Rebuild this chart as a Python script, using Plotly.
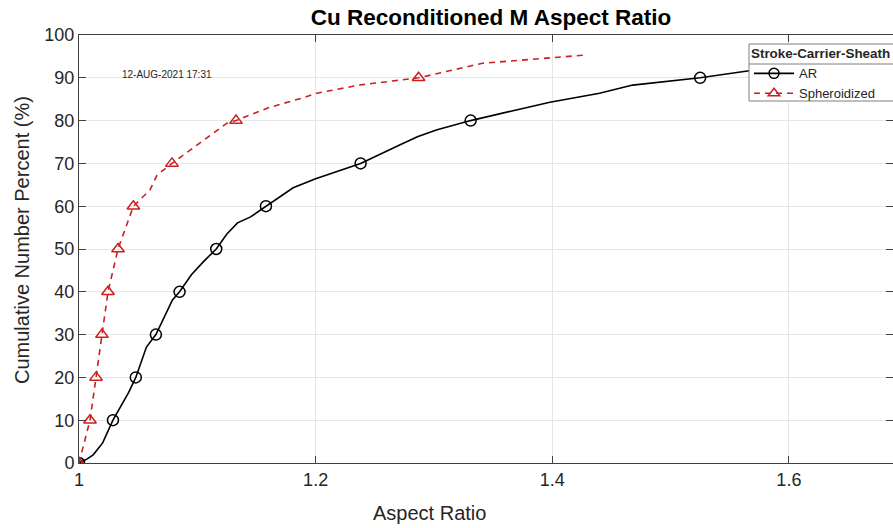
import plotly.graph_objects as go

# ---- data ----
ar_x = [1.000, 1.006, 1.012, 1.020, 1.0287, 1.035, 1.042, 1.048, 1.057, 1.065,
        1.072, 1.079, 1.085, 1.095, 1.105, 1.116, 1.125, 1.134, 1.145, 1.158,
        1.181, 1.200, 1.238, 1.271, 1.286, 1.302, 1.331, 1.365, 1.398, 1.440,
        1.468, 1.525, 1.565, 1.620, 1.690]
ar_y = [0, 0.8, 1.9, 4.7, 10, 13.1, 16.5, 20, 27.1, 30,
        34, 38.1, 40, 44, 47, 50, 53.5, 56.1, 57.5, 60,
        64.3, 66.4, 70, 74.3, 76.2, 77.8, 80, 82.2, 84.3, 86.4,
        88.3, 90, 91.6, 92.4, 93.3]

sph_x = [1.000, 1.0093, 1.0144, 1.0194, 1.0245, 1.033, 1.046, 1.060, 1.066, 1.0786,
         1.100, 1.125, 1.1327, 1.160, 1.189, 1.201, 1.237, 1.287, 1.341, 1.380, 1.4275]
sph_y = [0, 10, 20, 30, 40, 50, 60, 63.8, 67.3, 70,
         74.3, 79.4, 80, 83, 85.3, 86.4, 88.3, 90, 93.4, 94.2, 95.3]

x_ticks = [1.0, 1.2, 1.4, 1.6]
x_tick_labels = ["1", "1.2", "1.4", "1.6"]
y_ticks = [0, 10, 20, 30, 40, 50, 60, 70, 80, 90, 100]

title_text = "Cu Reconditioned M Aspect Ratio"
legend_title = "Stroke-Carrier-Sheath"
stamp = "12-AUG-2021 17:31"

FONT = "Liberation Sans, Arial, Helvetica, sans-serif"
RED = "#cc1f1f"

W, H = 893, 528
L, T, R, B = 79, 35, 893, 463
PW, PH = R - L, B - T


def px_x(p):
    return (p - L) / PW


def px_y(p):
    return (B - p) / PH


def deciles(xs, ys):
    px, py = [], []
    for a, b in zip(xs, ys):
        if abs(b - round(b / 10) * 10) < 1e-9:
            px.append(a)
            py.append(b)
    return px, py


fig = go.Figure()

# AR
fig.add_trace(go.Scatter(x=ar_x, y=ar_y, mode="lines",
                         line=dict(color="black", width=1.6),
                         showlegend=False, hoverinfo="skip"))
mx, my = deciles(ar_x, ar_y)
fig.add_trace(go.Scatter(x=mx, y=my, mode="markers",
                         marker=dict(symbol="circle-open", size=11, color="black",
                                     line=dict(width=1.5, color="black")),
                         showlegend=False))
fig.add_trace(go.Scatter(x=[None], y=[None], mode="lines+markers", name="AR",
                         line=dict(color="black", width=1.6),
                         marker=dict(symbol="circle-open", size=10, color="black",
                                     line=dict(width=1.5, color="black"))))

# Spheroidized
fig.add_trace(go.Scatter(x=sph_x, y=sph_y, mode="lines",
                         line=dict(color=RED, width=1.6, dash="6px,5px"),
                         showlegend=False, hoverinfo="skip"))
sx, sy = deciles(sph_x, sph_y)
fig.add_trace(go.Scatter(x=sx, y=sy, mode="markers",
                         marker=dict(symbol="triangle-up-open", size=11, color=RED,
                                     line=dict(width=1.5, color=RED)),
                         showlegend=False))
fig.add_trace(go.Scatter(x=[None], y=[None], mode="lines+markers", name="Spheroidized",
                         line=dict(color=RED, width=1.6, dash="6px,5px"),
                         marker=dict(symbol="triangle-up-open", size=10, color=RED,
                                     line=dict(width=1.5, color=RED))))

axis_common = dict(
    showline=True, linecolor="#404040", linewidth=1, mirror="ticks",
    ticks="inside", ticklen=7, tickcolor="#404040",
    showgrid=True, gridcolor="#e6e6e6", gridwidth=1,
    zeroline=False,
    tickfont=dict(family=FONT, size=18, color="#262626"),
)

fig.update_layout(
    width=W, height=H,
    margin=dict(l=L, r=W - R, t=T, b=H - B, autoexpand=False),
    paper_bgcolor="white", plot_bgcolor="white",
    font=dict(family=FONT, color="#262626"),
    xaxis=dict(range=[1.0, 1.688], tickvals=x_ticks, ticktext=x_tick_labels,
               **axis_common),
    yaxis=dict(range=[0, 100], tickvals=y_ticks, **axis_common),
    showlegend=True,
    legend=dict(
        x=px_x(749), y=px_y(41),
        xanchor="left", yanchor="top",
        bgcolor="rgba(0,0,0,0)", borderwidth=0,
        font=dict(family=FONT, size=13, color="#262626"),
        title=dict(text="<b>" + legend_title + "</b>", side="top",
                   font=dict(family=FONT, size=13.4, color="#262626")),
        tracegroupgap=0, itemwidth=40,
    ),
    title=dict(text="<b>" + title_text + "</b>", xref="container", yref="container",
               x=491 / W, y=1 - 17.5 / H, xanchor="center", yanchor="middle",
               font=dict(family=FONT, size=22.5, color="black")),
)

# legend box and separator under legend title
fig.add_shape(type="rect", xref="paper", yref="paper", layer="above",
              x0=px_x(749), x1=px_x(898), y0=px_y(101), y1=px_y(44),
              fillcolor="white", line=dict(color="#7f7f7f", width=1))
fig.add_shape(type="line", xref="paper", yref="paper", layer="above",
              x0=px_x(749), x1=1.0, y0=px_y(64), y1=px_y(64),
              line=dict(color="#7f7f7f", width=1))

fig.add_annotation(text=stamp, xref="x", yref="y", x=1.0744, y=90.7,
                   showarrow=False, font=dict(family=FONT, size=10, color="#262626"))
fig.add_annotation(text="Aspect Ratio", xref="paper", yref="paper",
                   x=px_x(429), y=px_y(513),
                   xanchor="center", yanchor="middle", showarrow=False,
                   font=dict(family=FONT, size=20, color="#262626"))
fig.add_annotation(text="Cumulative Number Percent (%)", xref="paper", yref="paper",
                   x=px_x(22), y=px_y(240),
                   xanchor="center", yanchor="middle", showarrow=False, textangle=-90,
                   font=dict(family=FONT, size=20, color="#262626"))

fig.write_html("out.html", config={"displayModeBar": False},
               post_script="document.body.style.margin='0';document.body.style.overflow='hidden';")
